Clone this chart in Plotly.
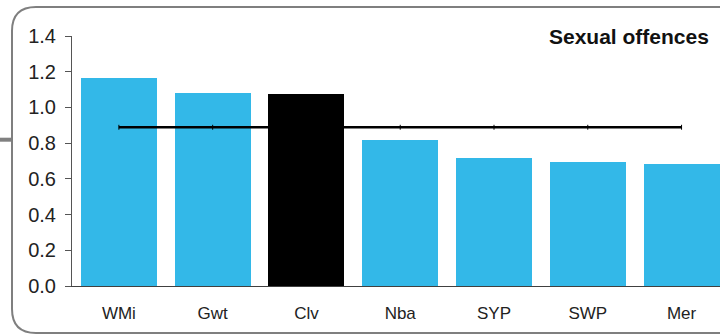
import plotly.graph_objects as go

categories = ["WMi", "Gwt", "Clv", "Nba", "SYP", "SWP", "Mer"]
values = [1.165, 1.08, 1.075, 0.817, 0.717, 0.695, 0.683]
average = [0.889] * 7
bar_colors = ["#33B8E8", "#33B8E8", "#000000", "#33B8E8", "#33B8E8", "#33B8E8", "#33B8E8"]
y_ticks = [0.0, 0.2, 0.4, 0.6, 0.8, 1.0, 1.2, 1.4]
title_text = "Sexual offences"

W, H = 720, 336
L, R, T, B = 72, 0, 36, 50
PW = W - L - R
PH = H - T - B

def px(x):
    return (x - L) / PW

def py(y):
    return (H - B - y) / PH

fig = go.Figure()
fig.add_trace(go.Bar(x=list(range(len(categories))), y=values, marker_color=bar_colors,
                     marker_line_width=0, width=0.81, showlegend=False, hoverinfo="skip"))
fig.add_trace(go.Scatter(x=list(range(len(categories))), y=average, mode="lines+markers",
                         line=dict(color="#000000", width=2.5),
                         marker=dict(symbol="line-ns", size=3.5, line=dict(color="#000000", width=1)),
                         showlegend=False, hoverinfo="skip"))

# rounded border
x0, x1, y0, y1, r = 12, 742, 7, 333, 24
path = (f"M {px(x0+r)},{py(y0)} L {px(x1-r)},{py(y0)} Q {px(x1)},{py(y0)} {px(x1)},{py(y0+r)} "
        f"L {px(x1)},{py(y1-r)} Q {px(x1)},{py(y1)} {px(x1-r)},{py(y1)} "
        f"L {px(x0+r)},{py(y1)} Q {px(x0)},{py(y1)} {px(x0)},{py(y1-r)} "
        f"L {px(x0)},{py(y0+r)} Q {px(x0)},{py(y0)} {px(x0+r)},{py(y0)} Z")
fig.add_shape(type="path", path=path, xref="paper", yref="paper",
              line=dict(color="#7f7f7f", width=2))
fig.add_shape(type="line", x0=px(0), x1=px(11), y0=py(139.7), y1=py(139.7),
              xref="paper", yref="paper", line=dict(color="#808080", width=4))

fig.add_annotation(text=f"<b>{title_text}</b>", x=px(711), y=py(36), xref="paper", yref="paper",
                   xanchor="right", yanchor="middle", showarrow=False,
                   font=dict(family="Liberation Sans, Arial", size=21, color="#111111"))

fig.update_layout(
    width=W, height=H,
    margin=dict(l=L, r=R, t=T, b=B, pad=0),
    paper_bgcolor="white", plot_bgcolor="white",
    font=dict(family="Liberation Sans, Arial", color="#222222"),
    bargap=0,
    xaxis=dict(range=[-0.5, 6.41], tickmode="array", tickvals=list(range(len(categories))),
               ticktext=categories, showgrid=False, zeroline=False, showline=True,
               linecolor="#404040", linewidth=1, ticks="", tickfont=dict(size=17),
               ticklabelstandoff=12, fixedrange=True),
    yaxis=dict(range=[0, 1.4], tickmode="array", tickvals=y_ticks,
               ticktext=[f"{v:.1f}" for v in y_ticks], showgrid=False, zeroline=False,
               showline=True, linecolor="#555555", linewidth=1, ticks="outside", ticklen=6,
               tickcolor="#555555", tickfont=dict(size=20), ticklabelstandoff=5,
               fixedrange=True),
)

fig.write_html("out.html", config={"displayModeBar": False},
               post_script="document.body.style.margin='0';document.body.style.overflow='hidden';")
